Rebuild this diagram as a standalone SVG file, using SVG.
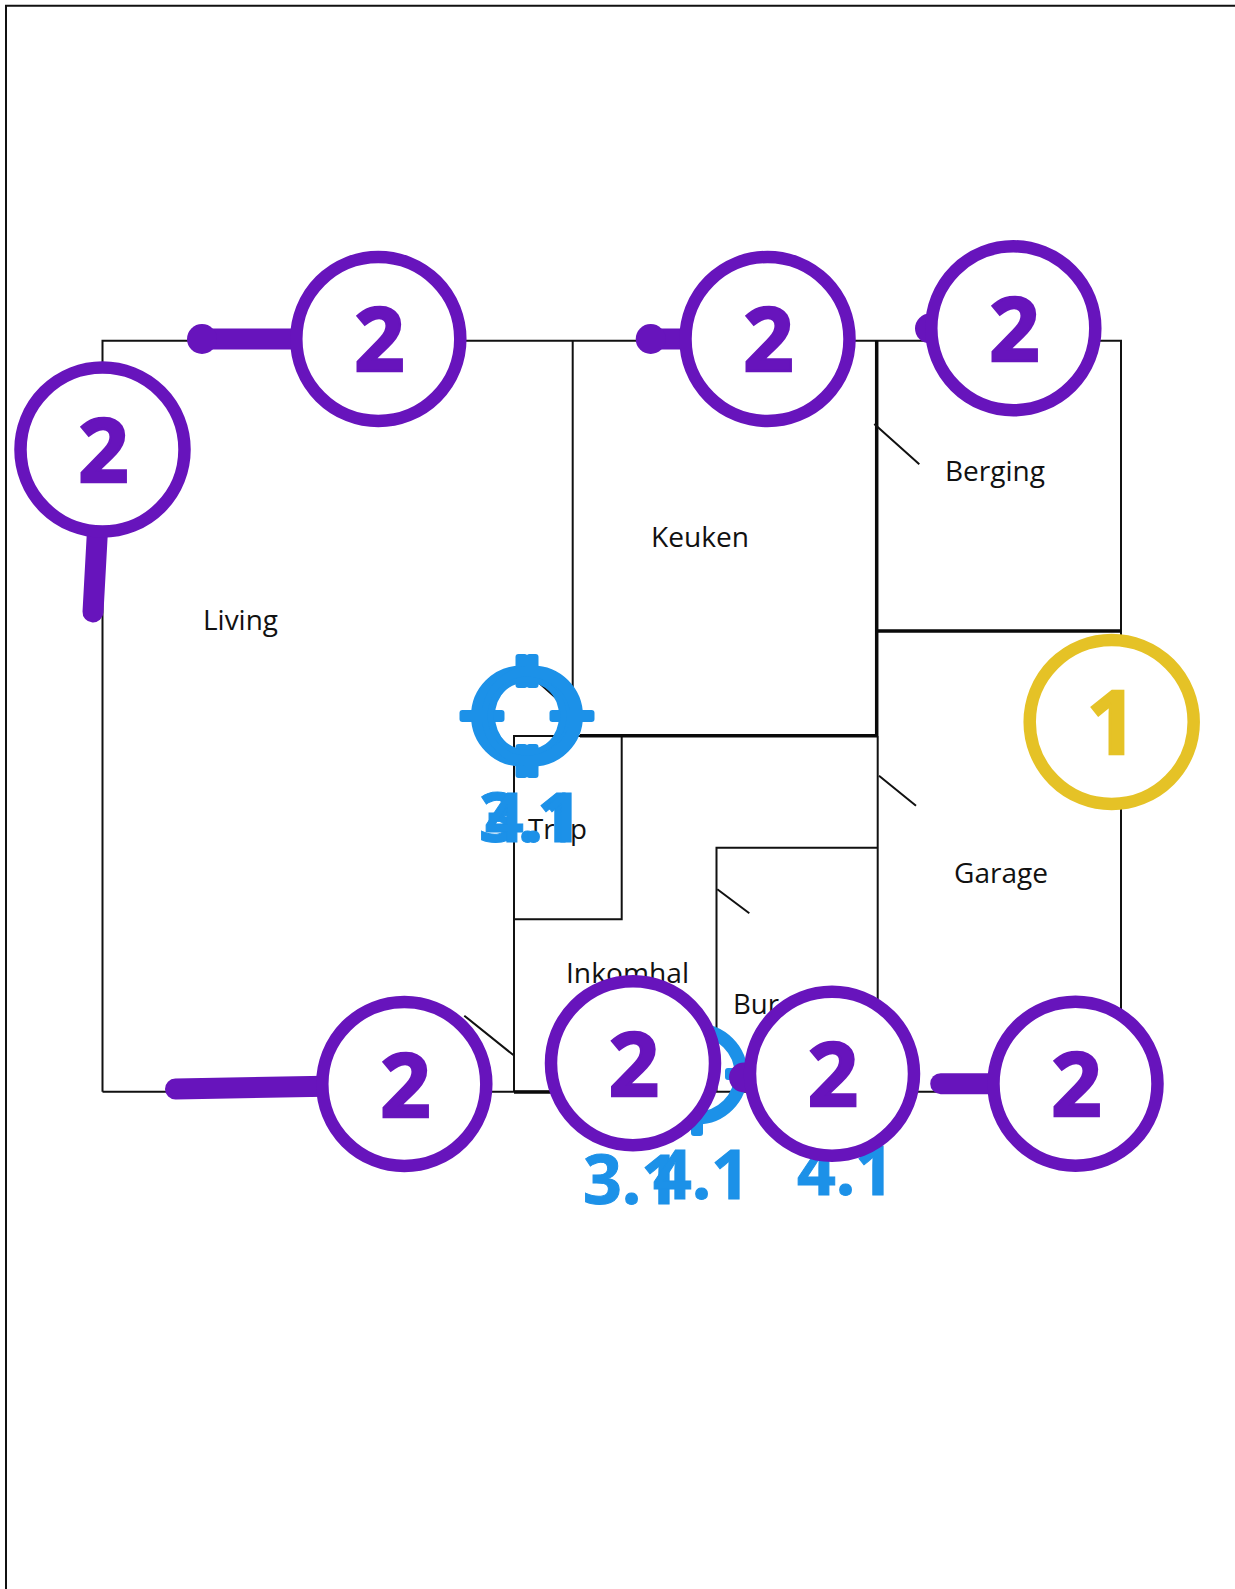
<svg xmlns="http://www.w3.org/2000/svg" width="1235" height="1589" viewBox="0 0 1235 1589">
<style>
.wall{fill:none;stroke:#111;stroke-width:2}
.thick{fill:none;stroke:#0a0a0a;stroke-width:3.5}
.room{font-family:"Open Sans","Noto Sans",sans-serif;font-size:28px;fill:#111}
.ring{fill:#fff;stroke:#6714bc;stroke-width:12.5}
.num{font-family:"Noto Sans","Open Sans",sans-serif;font-weight:700;font-size:88px;text-anchor:middle;fill:#6714bc;stroke:#6714bc;stroke-width:2.5}
.bar{fill:none;stroke:#6714bc;stroke-width:21;stroke-linecap:round}
.dot{fill:#6714bc}
.target{fill:none;stroke:#1c91e8;stroke-width:13}
.tick{fill:#1c91e8}
.lbl{font-family:"Noto Sans","Open Sans",sans-serif;font-weight:700;font-size:68px;fill:#1c91e8;stroke:#1c91e8;stroke-width:1;letter-spacing:0}
</style>
<defs>
<g id="tg">
<circle class="target" r="44"/>
<rect class="tick" x="-6" y="-62" width="12" height="34" rx="3"/>
<rect class="tick" x="-6" y="28" width="12" height="34" rx="3"/>
<rect class="tick" x="-62" y="-6" width="34" height="12" rx="3"/>
<rect class="tick" x="28" y="-6" width="34" height="12" rx="3"/>
</g>
</defs>
<g id="plan">
<path class="wall" d="M6 1589V5.7H1235"/>
<path class="wall" d="M102.5 1091.7V340.7H1121V1091.7H102.5"/>
<path class="wall" d="M572.7 340.7V690M514 1091.7V736H621.7V919.3H514M716.5 1091.7V847.7H877.7M877.7 736V1091.7"/>
<path class="thick" d="M876.7 340.7V736M580 735.7H877M877 631H1121M514 1092H610"/>
<path class="wall" d="M874.3 424L919.3 464.3M879 775.7L916 805.7M717.3 889.3L749.3 913.3M464.3 1015.7L513.3 1055M538 682L565 706"/>
</g>
<g id="rooms">
<text class="room" x="203" y="630" textLength="75" lengthAdjust="spacingAndGlyphs">Living</text>
<text class="room" x="651" y="547" textLength="98" lengthAdjust="spacingAndGlyphs">Keuken</text>
<text class="room" x="945" y="481" textLength="100" lengthAdjust="spacingAndGlyphs">Berging</text>
<text class="room" x="954" y="883" textLength="94" lengthAdjust="spacingAndGlyphs">Garage</text>
<text class="room" x="528" y="839" textLength="59" lengthAdjust="spacingAndGlyphs">Trap</text>
<text class="room" x="566" y="983" textLength="123" lengthAdjust="spacingAndGlyphs">Inkomhal</text>
<text class="room" x="733" y="1014" textLength="46" lengthAdjust="spacingAndGlyphs">Bur</text>
</g>
<g id="target-1"><use href="#tg" x="521.5" y="716"/><use href="#tg" x="532.5" y="716"/>
<circle cx="527" cy="716" r="36.5" fill="none" stroke="#1c91e8" stroke-width="6"/>
<text class="lbl" x="479" y="842">3.1</text><text class="lbl" x="485" y="842">4.1</text></g>
<g id="target-2"><use href="#tg" x="697" y="1074"/>
<text class="lbl" x="583" y="1204">3.1</text><text class="lbl" x="653" y="1199">4.1</text></g>
<g id="label-3"><text class="lbl" x="797" y="1194.5">4.1</text></g>
<g id="connectors">
<path class="bar" d="M97.5 530L93 612"/>
<path class="bar" d="M202 339H300"/>
<circle class="dot" cx="202" cy="339" r="15"/>
<path class="bar" d="M650 339H690" stroke-linecap="butt"/>
<circle class="dot" cx="650.7" cy="339" r="15"/>
<circle class="dot" cx="930" cy="328.5" r="15"/>
<circle class="dot" cx="744" cy="1077.5" r="15"/>
<path class="bar" d="M175.5 1089L325 1086.3"/>
<path class="bar" d="M940.7 1083.7H1000"/>
</g>
<g id="n1"><circle class="ring" cx="102.5" cy="449.5" r="82"/><text class="num" x="103.5" y="481.5">2</text></g>
<g id="n2"><circle class="ring" cx="378.3" cy="339" r="82"/><text class="num" x="379.3" y="371.3">2</text></g>
<g id="n3"><circle class="ring" cx="767.5" cy="339" r="82"/><text class="num" x="768.5" y="371.3">2</text></g>
<g id="n4"><circle class="ring" cx="1013.3" cy="328.3" r="82"/><text class="num" x="1014.3" y="361">2</text></g>
<g id="n5"><circle class="ring" cx="1111.7" cy="722" r="82" style="stroke:#e5c226"/><text class="num" x="1112" y="754" style="fill:#e5c226;stroke:#e5c226">1</text></g>
<g id="n6"><circle class="ring" cx="404.3" cy="1084" r="82"/><text class="num" x="405.3" y="1116.7">2</text></g>
<g id="n7"><circle class="ring" cx="633" cy="1063.3" r="82"/><text class="num" x="634" y="1095.7">2</text></g>
<g id="n8"><circle class="ring" cx="832" cy="1073.7" r="82"/><text class="num" x="833" y="1105.7">2</text></g>
<g id="n9"><circle class="ring" cx="1075.5" cy="1083.7" r="82"/><text class="num" x="1076.5" y="1115.7">2</text></g>
</svg>
